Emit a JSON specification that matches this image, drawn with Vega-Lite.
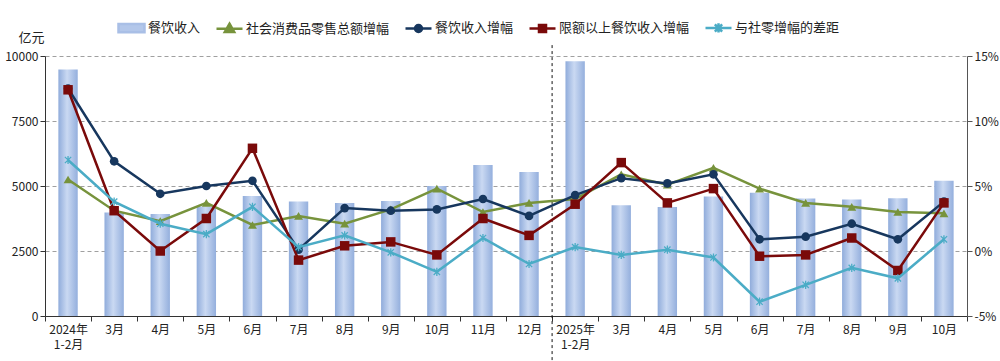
{
  "$schema": "https://vega.github.io/schema/vega-lite/v6.json",
  "width": 922,
  "height": 260,
  "autosize": "none",
  "padding": {"left": 45, "top": 56, "right": 33, "bottom": 45},
  "background": "white",
  "config": {
    "font": "Noto Sans CJK SC",
    "view": {"stroke": null},
    "axis": {"labelFont": "Noto Sans CJK SC", "titleFont": "Noto Sans CJK SC"}
  },
  "datasets": {
    "rev": [
      {"m": "2024-01", "rev": 9480}, {"m": "2024-03", "rev": 3980}, {"m": "2024-04", "rev": 3920},
      {"m": "2024-05", "rev": 4210}, {"m": "2024-06", "rev": 4620}, {"m": "2024-07", "rev": 4400},
      {"m": "2024-08", "rev": 4350}, {"m": "2024-09", "rev": 4420}, {"m": "2024-10", "rev": 5000},
      {"m": "2024-11", "rev": 5810}, {"m": "2024-12", "rev": 5540}, {"m": "2025-01", "rev": 9800},
      {"m": "2025-03", "rev": 4260}, {"m": "2025-04", "rev": 4190}, {"m": "2025-05", "rev": 4600},
      {"m": "2025-06", "rev": 4740}, {"m": "2025-07", "rev": 4520}, {"m": "2025-08", "rev": 4480},
      {"m": "2025-09", "rev": 4530}, {"m": "2025-10", "rev": 5200}
    ],
    "gr": [
      {"m": "2024-01", "s": "社会消费品零售总额增幅", "v": 5.5},
      {"m": "2024-03", "s": "社会消费品零售总额增幅", "v": 3.1},
      {"m": "2024-04", "s": "社会消费品零售总额增幅", "v": 2.3},
      {"m": "2024-05", "s": "社会消费品零售总额增幅", "v": 3.7},
      {"m": "2024-06", "s": "社会消费品零售总额增幅", "v": 2.0},
      {"m": "2024-07", "s": "社会消费品零售总额增幅", "v": 2.7},
      {"m": "2024-08", "s": "社会消费品零售总额增幅", "v": 2.1},
      {"m": "2024-09", "s": "社会消费品零售总额增幅", "v": 3.2},
      {"m": "2024-10", "s": "社会消费品零售总额增幅", "v": 4.8},
      {"m": "2024-11", "s": "社会消费品零售总额增幅", "v": 3.0},
      {"m": "2024-12", "s": "社会消费品零售总额增幅", "v": 3.7},
      {"m": "2025-01", "s": "社会消费品零售总额增幅", "v": 4.0},
      {"m": "2025-03", "s": "社会消费品零售总额增幅", "v": 5.9},
      {"m": "2025-04", "s": "社会消费品零售总额增幅", "v": 5.1},
      {"m": "2025-05", "s": "社会消费品零售总额增幅", "v": 6.4},
      {"m": "2025-06", "s": "社会消费品零售总额增幅", "v": 4.8},
      {"m": "2025-07", "s": "社会消费品零售总额增幅", "v": 3.7},
      {"m": "2025-08", "s": "社会消费品零售总额增幅", "v": 3.4},
      {"m": "2025-09", "s": "社会消费品零售总额增幅", "v": 3.0},
      {"m": "2025-10", "s": "社会消费品零售总额增幅", "v": 2.9},
      {"m": "2024-01", "s": "餐饮收入增幅", "v": 12.5},
      {"m": "2024-03", "s": "餐饮收入增幅", "v": 6.9},
      {"m": "2024-04", "s": "餐饮收入增幅", "v": 4.4},
      {"m": "2024-05", "s": "餐饮收入增幅", "v": 5.0},
      {"m": "2024-06", "s": "餐饮收入增幅", "v": 5.4},
      {"m": "2024-07", "s": "餐饮收入增幅", "v": 0.1},
      {"m": "2024-08", "s": "餐饮收入增幅", "v": 3.3},
      {"m": "2024-09", "s": "餐饮收入增幅", "v": 3.1},
      {"m": "2024-10", "s": "餐饮收入增幅", "v": 3.2},
      {"m": "2024-11", "s": "餐饮收入增幅", "v": 4.0},
      {"m": "2024-12", "s": "餐饮收入增幅", "v": 2.7},
      {"m": "2025-01", "s": "餐饮收入增幅", "v": 4.3},
      {"m": "2025-03", "s": "餐饮收入增幅", "v": 5.6},
      {"m": "2025-04", "s": "餐饮收入增幅", "v": 5.2},
      {"m": "2025-05", "s": "餐饮收入增幅", "v": 5.9},
      {"m": "2025-06", "s": "餐饮收入增幅", "v": 0.9},
      {"m": "2025-07", "s": "餐饮收入增幅", "v": 1.1},
      {"m": "2025-08", "s": "餐饮收入增幅", "v": 2.1},
      {"m": "2025-09", "s": "餐饮收入增幅", "v": 0.9},
      {"m": "2025-10", "s": "餐饮收入增幅", "v": 3.8},
      {"m": "2024-01", "s": "限额以上餐饮收入增幅", "v": 12.4},
      {"m": "2024-03", "s": "限额以上餐饮收入增幅", "v": 3.1},
      {"m": "2024-04", "s": "限额以上餐饮收入增幅", "v": 0.0},
      {"m": "2024-05", "s": "限额以上餐饮收入增幅", "v": 2.5},
      {"m": "2024-06", "s": "限额以上餐饮收入增幅", "v": 7.9},
      {"m": "2024-07", "s": "限额以上餐饮收入增幅", "v": -0.7},
      {"m": "2024-08", "s": "限额以上餐饮收入增幅", "v": 0.4},
      {"m": "2024-09", "s": "限额以上餐饮收入增幅", "v": 0.7},
      {"m": "2024-10", "s": "限额以上餐饮收入增幅", "v": -0.3},
      {"m": "2024-11", "s": "限额以上餐饮收入增幅", "v": 2.5},
      {"m": "2024-12", "s": "限额以上餐饮收入增幅", "v": 1.2},
      {"m": "2025-01", "s": "限额以上餐饮收入增幅", "v": 3.6},
      {"m": "2025-03", "s": "限额以上餐饮收入增幅", "v": 6.8},
      {"m": "2025-04", "s": "限额以上餐饮收入增幅", "v": 3.7},
      {"m": "2025-05", "s": "限额以上餐饮收入增幅", "v": 4.8},
      {"m": "2025-06", "s": "限额以上餐饮收入增幅", "v": -0.4},
      {"m": "2025-07", "s": "限额以上餐饮收入增幅", "v": -0.3},
      {"m": "2025-08", "s": "限额以上餐饮收入增幅", "v": 1.0},
      {"m": "2025-09", "s": "限额以上餐饮收入增幅", "v": -1.5},
      {"m": "2025-10", "s": "限额以上餐饮收入增幅", "v": 3.7},
      {"m": "2024-01", "s": "与社零增幅的差距", "v": 7.0},
      {"m": "2024-03", "s": "与社零增幅的差距", "v": 3.8},
      {"m": "2024-04", "s": "与社零增幅的差距", "v": 2.1},
      {"m": "2024-05", "s": "与社零增幅的差距", "v": 1.3},
      {"m": "2024-06", "s": "与社零增幅的差距", "v": 3.4},
      {"m": "2024-07", "s": "与社零增幅的差距", "v": 0.3},
      {"m": "2024-08", "s": "与社零增幅的差距", "v": 1.2},
      {"m": "2024-09", "s": "与社零增幅的差距", "v": -0.1},
      {"m": "2024-10", "s": "与社零增幅的差距", "v": -1.6},
      {"m": "2024-11", "s": "与社零增幅的差距", "v": 1.0},
      {"m": "2024-12", "s": "与社零增幅的差距", "v": -1.0},
      {"m": "2025-01", "s": "与社零增幅的差距", "v": 0.3},
      {"m": "2025-03", "s": "与社零增幅的差距", "v": -0.3},
      {"m": "2025-04", "s": "与社零增幅的差距", "v": 0.1},
      {"m": "2025-05", "s": "与社零增幅的差距", "v": -0.5},
      {"m": "2025-06", "s": "与社零增幅的差距", "v": -3.9},
      {"m": "2025-07", "s": "与社零增幅的差距", "v": -2.6},
      {"m": "2025-08", "s": "与社零增幅的差距", "v": -1.3},
      {"m": "2025-09", "s": "与社零增幅的差距", "v": -2.1},
      {"m": "2025-10", "s": "与社零增幅的差距", "v": 0.9}
    ]
  },
  "encoding": {
    "x": {
      "field": "m",
      "type": "ordinal",
      "scale": {
        "domain": ["2024-01", "2024-03", "2024-04", "2024-05", "2024-06", "2024-07", "2024-08", "2024-09", "2024-10", "2024-11", "2024-12", "2025-01", "2025-03", "2025-04", "2025-05", "2025-06", "2025-07", "2025-08", "2025-09", "2025-10"],
        "paddingInner": 0,
        "paddingOuter": 0
      },
      "axis": {
        "title": null,
        "tickBand": "extent",
        "tickSize": 5,
        "tickColor": "#333",
        "domainColor": "#333",
        "labelAngle": 0,
        "labelPadding": 3,
        "labelFontSize": 12,
        "labelColor": "#222",
        "labelLineHeight": 15,
        "labelBaseline": "top",
        "labelOverlap": false,
        "labelExpr": "datum.value == '2024-01' ? ['2024年','1-2月'] : datum.value == '2025-01' ? ['2025年','1-2月'] : (isString(datum.value) && length(datum.value) == 7) ? toNumber(substring(datum.value, 5)) + '月' : ''"
      }
    }
  },
  "layer": [
    {
      "data": {"name": "rev"},
      "layer": [
        {
          "mark": {
            "type": "bar",
            "width": {"band": 0.42},
            "color": {
              "gradient": "linear", "x1": 0, "x2": 1, "y1": 0, "y2": 0,
              "stops": [
                {"offset": 0, "color": "#90acdb"},
                {"offset": 0.45, "color": "#cad9f2"},
                {"offset": 1, "color": "#94afdd"}
              ]
            }
          },
          "encoding": {
            "y": {
              "field": "rev",
              "type": "quantitative",
              "scale": {"domain": [0, 10000], "nice": false},
              "axis": {
                "orient": "left",
                "values": [0, 2500, 5000, 7500, 10000],
                "format": "d",
                "title": "亿元",
                "titleAngle": 0,
                "titleX": -14,
                "titleY": -19,
                "titleAlign": "center",
                "titleBaseline": "middle",
                "titleFontSize": 13,
                "titleFontWeight": "normal",
                "titleColor": "#222",
                "labelFontSize": 12,
                "labelColor": "#222",
                "labelPadding": 2,
                "tickSize": 5,
                "tickColor": "#333",
                "domainColor": "#333",
                "grid": true,
                "gridDash": [4, 3],
                "gridColor": "#a0a0a0"
              }
            }
          }
        },
        {
          "data": {"values": [{"m": "2025-01"}]},
          "mark": {"type": "rule", "color": "#111", "strokeDash": [3, 3], "strokeWidth": 1},
          "encoding": {
            "x": {"field": "m", "type": "ordinal", "bandPosition": 0},
            "y": {"datum": 10420, "type": "quantitative"},
            "y2": {"datum": -1730}
          }
        }
      ]
    },
    {
      "data": {"name": "gr"},
      "encoding": {
        "y": {
          "field": "v",
          "type": "quantitative",
          "scale": {"domain": [-5, 15], "nice": false},
          "axis": {
            "orient": "right",
            "values": [-5, 0, 5, 10, 15],
            "title": null,
            "labelExpr": "datum.value + '%'",
            "labelFontSize": 12,
            "labelColor": "#222",
            "labelPadding": 2,
            "tickSize": 5,
            "tickColor": "#555",
            "domainColor": "#555",
            "grid": false
          }
        }
      },
      "layer": [
        {
          "transform": [{"filter": "datum.s == '社会消费品零售总额增幅'"}],
          "mark": {"type": "line", "color": "#77933c", "strokeWidth": 2.5,
                   "point": {"shape": "triangle-up", "filled": true, "size": 80, "color": "#77933c"}}
        },
        {
          "transform": [{"filter": "datum.s == '餐饮收入增幅'"}],
          "mark": {"type": "line", "color": "#17375e", "strokeWidth": 2.5,
                   "point": {"shape": "circle", "filled": true, "size": 75, "color": "#17375e"}}
        },
        {
          "transform": [{"filter": "datum.s == '限额以上餐饮收入增幅'"}],
          "mark": {"type": "line", "color": "#7a0a0a", "strokeWidth": 2.5,
                   "point": {"shape": "square", "filled": true, "size": 90, "color": "#7a0a0a"}}
        },
        {
          "transform": [{"filter": "datum.s == '与社零增幅的差距'"}],
          "mark": {"type": "line", "color": "#4bacc6", "strokeWidth": 2.5,
                   "point": {"shape": "M-1,-1L1,1M-1,1L1,-1M0,-1.3V1.3", "filled": false, "size": 40, "strokeWidth": 1.3, "color": "#4bacc6"}}
        },
        {
          "data": {"values": [{"s": "餐饮收入"}]},
          "transform": [{"filter": "false"}],
          "mark": {"type": "point", "strokeWidth": 2.5, "opacity": 1},
          "encoding": {
            "y": {"value": 0},
            "fill": {
              "field": "s",
              "type": "nominal",
              "scale": {
                "domain": ["餐饮收入", "社会消费品零售总额增幅", "餐饮收入增幅", "限额以上餐饮收入增幅", "与社零增幅的差距"],
                "range": ["#b3c7ea", "#77933c", "#17375e", "#7a0a0a", "#4bacc6"]
              },
              "legend": {
                "title": null,
                "orient": "none",
                "legendX": 72,
                "legendY": -43,
                "direction": "horizontal",
                "columns": 5,
                "columnPadding": 10,
                "labelFontSize": 13,
                "labelColor": "#222",
                "labelFont": "Noto Sans CJK SC",
                "labelOffset": 2,
                "labelLimit": 300,
                "symbolSize": 676,
                "symbolStrokeWidth": 2.5
              }
            },
            "stroke": {
              "field": "s",
              "type": "nominal",
              "scale": {
                "domain": ["餐饮收入", "社会消费品零售总额增幅", "餐饮收入增幅", "限额以上餐饮收入增幅", "与社零增幅的差距"],
                "range": ["#a9bfe6", "#77933c", "#17375e", "#7a0a0a", "#4bacc6"]
              }
            },
            "shape": {
              "field": "s",
              "type": "nominal",
              "scale": {
                "domain": ["餐饮收入", "社会消费品零售总额增幅", "餐饮收入增幅", "限额以上餐饮收入增幅", "与社零增幅的差距"],
                "range": [
                  "M-1,-0.32H1V0.32H-1Z",
                  "M-1,0H1M0,-0.38L0.36,0.25H-0.36Z",
                  "M-1,0H1M-0.27,0A0.27,0.27,0,1,1,0.27,0A0.27,0.27,0,1,1,-0.27,0Z",
                  "M-1,0H1M-0.27,-0.27H0.27V0.27H-0.27Z",
                  "M-1,0H1M-0.28,-0.28L0.28,0.28M-0.28,0.28L0.28,-0.28M0,-0.36V0.36"
                ]
              }
            }
          }
        }
      ]
    }
  ],
  "resolve": {"scale": {"y": "independent"}}
}
